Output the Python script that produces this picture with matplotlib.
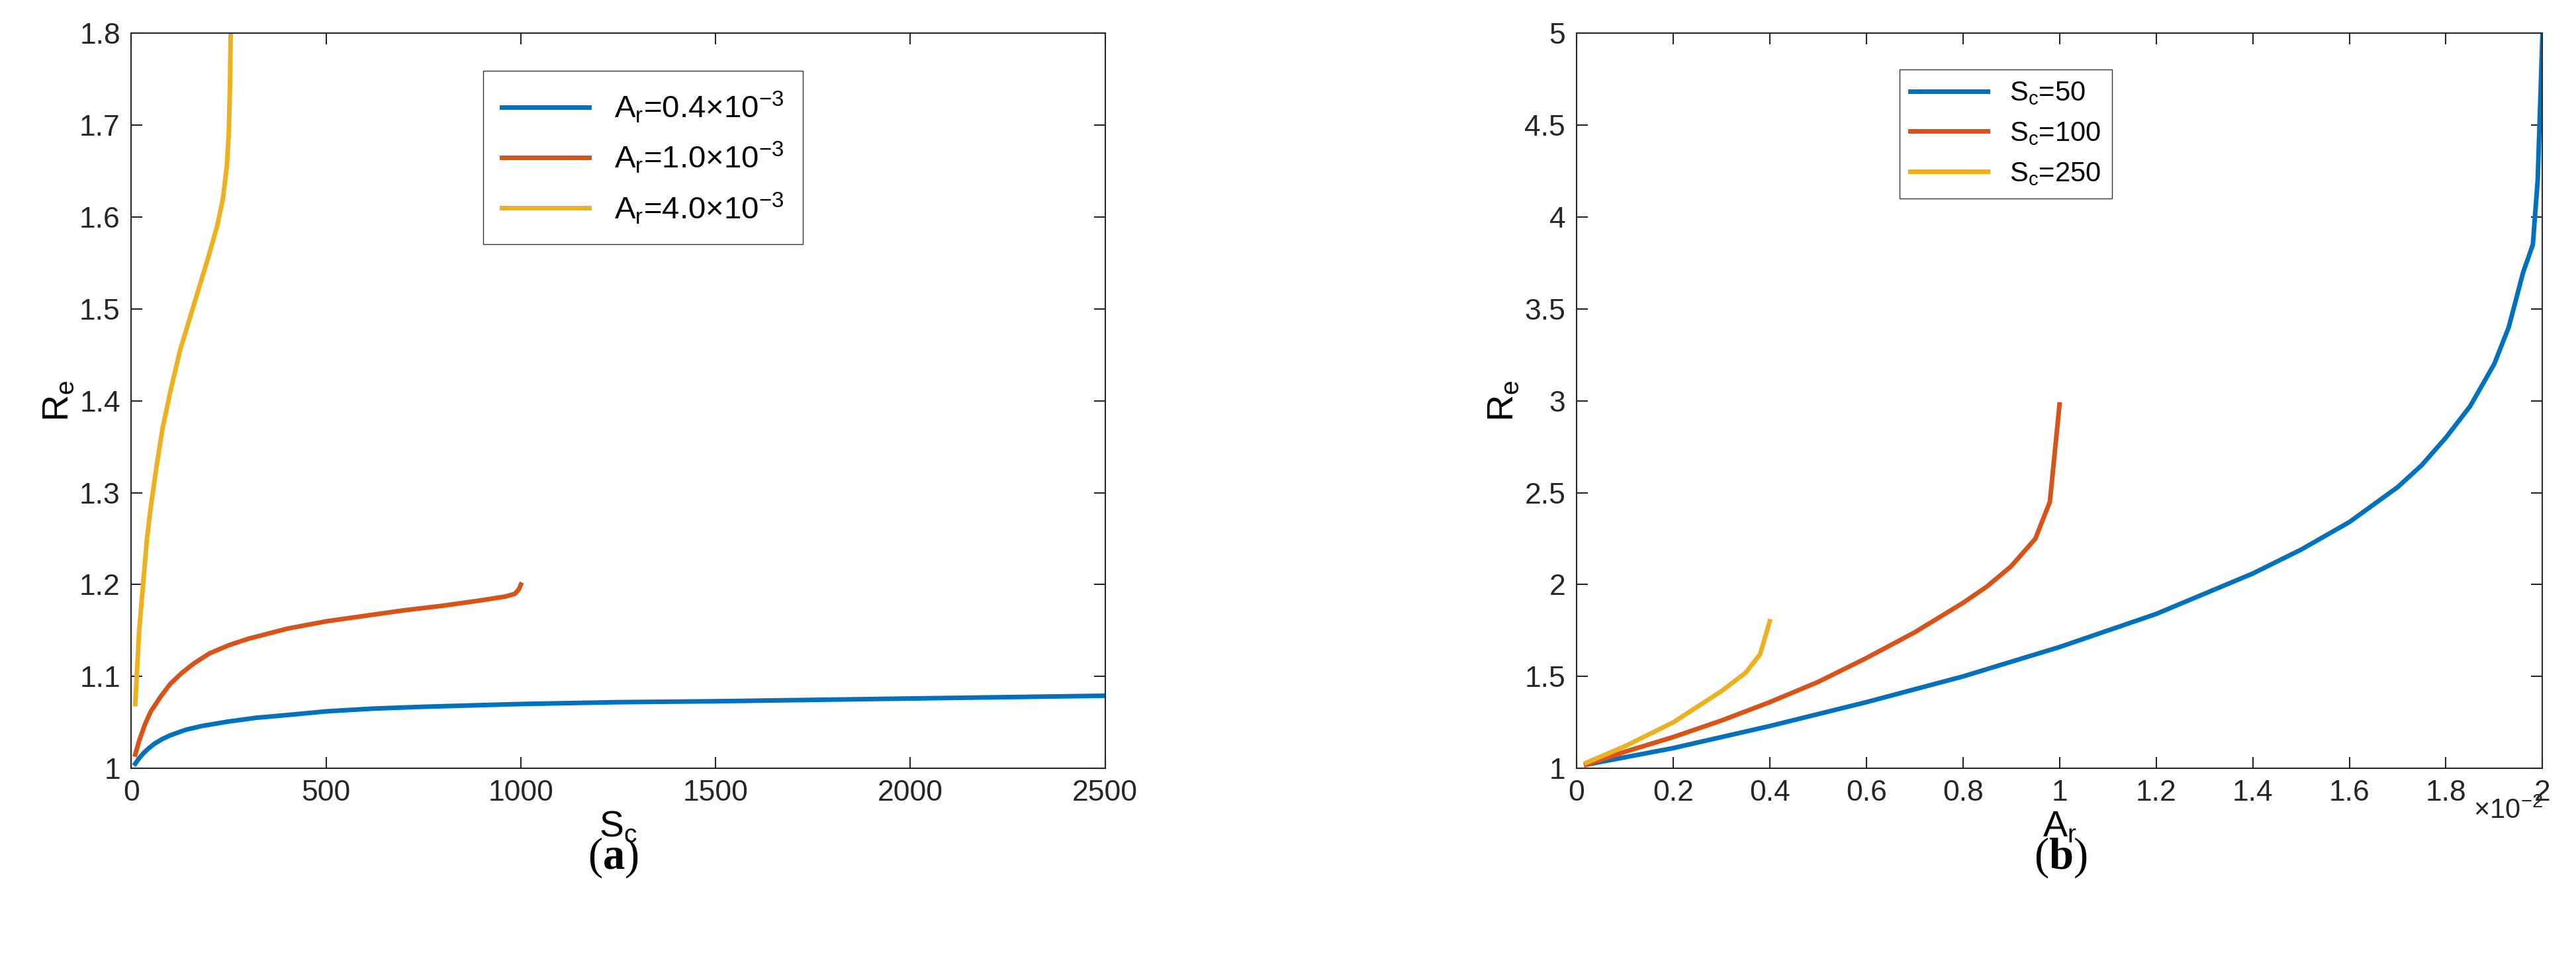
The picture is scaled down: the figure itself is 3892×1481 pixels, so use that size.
import matplotlib
matplotlib.use("Agg")
import matplotlib.pyplot as plt
import numpy as np

plt.rcParams['font.family'] = ['Liberation Sans', 'DejaVu Sans']
plt.rcParams['mathtext.fontset'] = 'custom'
plt.rcParams['mathtext.rm'] = 'Liberation Sans'
plt.rcParams['mathtext.bf'] = 'Liberation Serif:bold'

# Panel (a): Re vs Sc
sc_blue = [10, 20, 30, 45, 60, 80, 100, 140, 180, 250, 320, 400, 500, 620, 750, 1000, 1250, 1500, 2000, 2500]
re_blue = [1.005, 1.011, 1.016, 1.022, 1.027, 1.032, 1.036, 1.042, 1.046, 1.051, 1.055, 1.058, 1.062, 1.065, 1.067, 1.07, 1.072, 1.073, 1.076, 1.079]
sc_red = [10, 20, 35, 50, 75, 100, 130, 160, 200, 250, 300, 400, 500, 600, 700, 800, 900, 960, 985, 995, 1000]
re_red = [1.015, 1.03, 1.048, 1.062, 1.078, 1.092, 1.104, 1.114, 1.125, 1.134, 1.141, 1.152, 1.16, 1.166, 1.172, 1.177, 1.183, 1.187, 1.19, 1.195, 1.2]
sc_yel = [10, 15, 20, 30, 40, 50, 65, 80, 100, 125, 150, 175, 200, 220, 235, 245, 250, 253, 255]
re_yel = [1.07, 1.11, 1.15, 1.2, 1.25, 1.285, 1.33, 1.37, 1.41, 1.455, 1.49, 1.525, 1.56, 1.59, 1.62, 1.655, 1.69, 1.74, 1.8]
legend_a = [r'A$_\mathregular{r}$=0.4$\times$10$^{-3}$', r'A$_\mathregular{r}$=1.0$\times$10$^{-3}$', r'A$_\mathregular{r}$=4.0$\times$10$^{-3}$']

# Panel (b): Re vs Ar (x 1e-2)
ar_blue = [0.02, 0.2, 0.4, 0.6, 0.8, 1.0, 1.2, 1.4, 1.5, 1.6, 1.7, 1.75, 1.8, 1.85, 1.9, 1.93, 1.96, 1.98, 1.99, 2.0]
re_blue_b = [1.02, 1.11, 1.23, 1.36, 1.5, 1.66, 1.84, 2.06, 2.19, 2.34, 2.53, 2.65, 2.8, 2.97, 3.2, 3.4, 3.7, 3.85, 4.2, 5.0]
ar_red = [0.02, 0.1, 0.2, 0.3, 0.4, 0.5, 0.6, 0.7, 0.8, 0.85, 0.9, 0.95, 0.98, 1.0]
re_red_b = [1.02, 1.09, 1.17, 1.26, 1.36, 1.47, 1.6, 1.74, 1.9, 1.99, 2.1, 2.25, 2.45, 2.98]
ar_yel = [0.02, 0.1, 0.2, 0.3, 0.35, 0.38, 0.4]
re_yel_b = [1.03, 1.12, 1.25, 1.42, 1.52, 1.62, 1.8]
legend_b = [r'S$_\mathregular{c}$=50', r'S$_\mathregular{c}$=100', r'S$_\mathregular{c}$=250']

colors = ['#0072BD', '#D95319', '#EDB120']

fig = plt.figure(figsize=(38.92, 14.81), dpi=100)
ax1 = fig.add_axes([0.051, 0.216, 0.378, 0.75])
ax2 = fig.add_axes([0.612, 0.216, 0.375, 0.75])

for x, y, c, l in zip([sc_blue, sc_red, sc_yel], [re_blue, re_red, re_yel], colors, legend_a):
    ax1.plot(x, y, color=c, lw=5, label=l)
ax1.set_xlim(0, 2500); ax1.set_ylim(1, 1.8)
ax1.set_xticks(np.arange(0, 2501, 500))
ax1.set_yticks(np.arange(1, 1.81, 0.1))
ax1.set_yticklabels(['1', '1.1', '1.2', '1.3', '1.4', '1.5', '1.6', '1.7', '1.8'])
ax1.set_xlabel(r'S$_\mathregular{c}$', fontsize=40, labelpad=4)
ax1.set_ylabel(r'R$_\mathregular{e}$', fontsize=40)
ax1.legend(loc='upper left', bbox_to_anchor=(0.345, 0.97), fontsize=34, fancybox=False,
           edgecolor='black', handlelength=2.8, borderpad=0.6)

for x, y, c, l in zip([ar_blue, ar_red, ar_yel], [re_blue_b, re_red_b, re_yel_b], colors, legend_b):
    ax2.plot(x, y, color=c, lw=5, label=l)
ax2.set_xlim(0, 2); ax2.set_ylim(1, 5)
ax2.set_xticks(np.arange(0, 2.01, 0.2))
ax2.set_xticklabels(['0', '0.2', '0.4', '0.6', '0.8', '1', '1.2', '1.4', '1.6', '1.8', '2'])
ax2.set_yticks(np.arange(1, 5.01, 0.5))
ax2.set_yticklabels(['1', '1.5', '2', '2.5', '3', '3.5', '4', '4.5', '5'])
ax2.set_xlabel(r'A$_\mathregular{r}$', fontsize=40, labelpad=4)
ax2.set_ylabel(r'R$_\mathregular{e}$', fontsize=40)
ax2.text(1.0, -0.04, r'$\times$10$^{-2}$', transform=ax2.transAxes, fontsize=30, ha='right', va='top', color='#262626')
ax2.legend(loc='upper left', bbox_to_anchor=(0.32, 0.97), fontsize=30, fancybox=False,
           edgecolor='black', handlelength=2.8)

for ax in (ax1, ax2):
    ax.tick_params(direction='in', length=12, width=1.5, labelsize=32, colors='#262626', top=True, right=True, pad=12)
    ax.tick_params(labeltop=False, labelright=False)
    for s in ax.spines.values():
        s.set_linewidth(1.5); s.set_color('#262626')

fig.text(0.238, 0.125, r'($\mathbf{a}$)', fontsize=48, ha='center', va='center', family='Liberation Serif')
fig.text(0.80, 0.125, r'($\mathbf{b}$)', fontsize=48, ha='center', va='center', family='Liberation Serif')

fig.savefig('out.png', dpi=100)
